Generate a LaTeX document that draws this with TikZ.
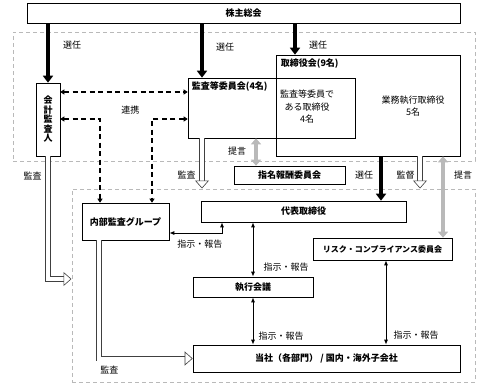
\documentclass[tikz,border=0pt]{standalone}
\usepackage{fontspec}
\newfontfamily\jpfont{Noto Sans CJK JP}
\usetikzlibrary{arrows.meta,positioning}
\tikzset{
  orgbox/.style={draw, line width=0.6pt, inner sep=0pt, align=center,
                 font=\jpfont\bfseries\fontsize{9}{9.5}\selectfont},
  area/.style={draw=gray!55, line width=1pt, dash pattern=on 4pt off 3pt, inner sep=0pt},
  elect/.style={line width=4pt, -{Triangle[length=7pt, width=10pt]}},
  link/.style={line width=1.5pt, dash pattern=on 5pt off 3.5pt,
               {Triangle[length=4pt, width=5pt]}-{Triangle[length=4pt, width=5pt]}},
  order/.style={line width=1pt, {Latex[length=5pt, width=4pt]}-{Latex[length=5pt, width=4pt]}},
  advice/.style={draw=gray!55, line width=4pt,
                 {Triangle[length=6pt, width=10pt]}-{Triangle[length=6pt, width=10pt]}},
  hollow/.style={draw=black!75, line width=0.6pt, double=white, double distance=4pt,
                 -{Triangle[open, fill=white, length=8pt, width=14pt]}},
  lbl/.style={font=\jpfont\fontsize{9}{9.5}\selectfont, inner sep=1pt},
}

\begin{document}
\begin{tikzpicture}[x=1pt, y=-1pt, font=\jpfont\fontsize{9}{9.5}\selectfont]
  \useasboundingbox (0,0) rectangle (495,386);
  % dashed areas
  \node[area, minimum width=462pt, minimum height=129pt] (upper) at (244,96.5) {};
  \node[area, minimum width=403pt, minimum height=193pt] (lower) at (273.5,285.5) {};
  % boxes
  \node[orgbox, minimum width=433pt, minimum height=20pt] (soukai) at (243.5,13) {株主総会};
  \node[orgbox, minimum width=24pt, minimum height=73pt] (kaikei) at (48,119.5) {会\\計\\監\\査\\人};
  \node[orgbox, minimum width=184pt, minimum height=101pt] (board) at (368,105.5) {};
  \node[orgbox, minimum width=167pt, minimum height=60pt] (kansa) at (271.5,108) {};
  \node[lbl, font=\jpfont\bfseries\fontsize{9}{9.5}\selectfont, anchor=north west] (boardlbl)
    at ([xshift=4pt, yshift=-3pt]board.north west) {取締役会(9名)};
  \node[lbl, font=\jpfont\bfseries\fontsize{9}{9.5}\selectfont, anchor=north west] (kansalbl)
    at ([xshift=3pt, yshift=-3pt]kansa.north west) {監査等委員会(4名)};
  \node[lbl, align=center, font=\jpfont\fontsize{9}{12.5}\selectfont] (kansadir) at (307,107) {監査等委員で\\ある取締役\\4名};
  \node[lbl, align=center, font=\jpfont\fontsize{9}{12}\selectfont] (gyomu) at (413,106) {業務執行取締役\\5名};
  \node[orgbox, minimum width=111pt, minimum height=18pt] (shimei) at (289.5,175) {指名報酬委員会};
  \node[orgbox, minimum width=87pt, minimum height=37pt] (naibu) at (125.5,221.5) {内部監査グループ};
  \node[orgbox, minimum width=205pt, minimum height=21pt] (daihyo) at (303.5,211.5) {代表取締役};
  \node[orgbox, minimum width=139pt, minimum height=22pt,
        font=\jpfont\bfseries\fontsize{8}{9}\selectfont] (risk) at (382.5,249) {リスク・コンプライアンス委員会};
  \node[orgbox, minimum width=120pt, minimum height=20pt] (shikkou) at (253,287) {執行会議};
  \node[orgbox, minimum width=267pt, minimum height=27pt] (tosha) at (326.5,358.5) {当社（各部門） / 国内・海外子会社};
  % election
  \draw[elect] (soukai.south -| kaikei) -- (kaikei.north) node[lbl, pos=0.37, right=12pt] {選任};
  \draw[elect] (soukai.south -| 202,0) -- (kansa.north -| 202,0) node[lbl, pos=0.44, right=11pt] {選任};
  \draw[elect] (soukai.south -| 295,0) -- (board.north -| 295,0) node[lbl, pos=0.69, right=11pt] {選任};
  \draw[elect] (board.south -| 381,0) -- (daihyo.north -| 381,0) node[lbl, pos=0.42, left=5pt] {選任};
  % cooperation
  \draw[link] (kaikei.east |- 0,92) -- (kansa.west |- 0,92) node[lbl, pos=0.55, below=12pt] {連携};
  \draw[link] (kaikei.east |- 0,119) -| (naibu.north -| 100,0);
  \draw[link] (kansa.west |- 0,119) -| (naibu.north -| 152,0);
  % proposals
  \draw[advice] (kansa.south -| 256,0) -- (shimei.north -| 256,0) node[lbl, pos=0.46, left=7pt] {提言};
  \draw[advice] (board.south -| 443,0) -- (risk.north -| 443,0) node[lbl, pos=0.23, right=8pt] {提言};
  % audit / supervision
  \draw[hollow] (board.south -| 420,0) -- (lower.north -| 420,0) node[lbl, pos=0.58, left=4pt] {監督};
  \draw[hollow] (kaikei.south) |- (lower.west |- 0,279) node[lbl, pos=0.08, left=5pt] {監査};
  \draw[hollow] (kansa.south -| 202,0) -- (lower.north -| 202,0) node[lbl, pos=0.73, left=5pt] {監査};
  \draw[hollow] (naibu.south -| 99,0) |- (tosha.west) node[lbl, pos=0.5, anchor=north west, yshift=-6pt] {監査};
  % instructions and reports
  \draw[order] (naibu.east |- 0,233) -| (daihyo.south -| 222,0) node[lbl, pos=0.29, below=5pt] {指示・報告};
  \draw[order] (daihyo.south -| shikkou) -- (shikkou.north) node[lbl, pos=0.82, right=9pt] {指示・報告};
  \draw[order] (shikkou.south) -- (tosha.north -| shikkou) node[lbl, pos=0.81, right=4pt] {指示・報告};
  \draw[order] (risk.south -| 386,0) -- (tosha.north -| 386,0) node[lbl, pos=0.89, right=6pt] {指示・報告};
\end{tikzpicture}
\end{document}
